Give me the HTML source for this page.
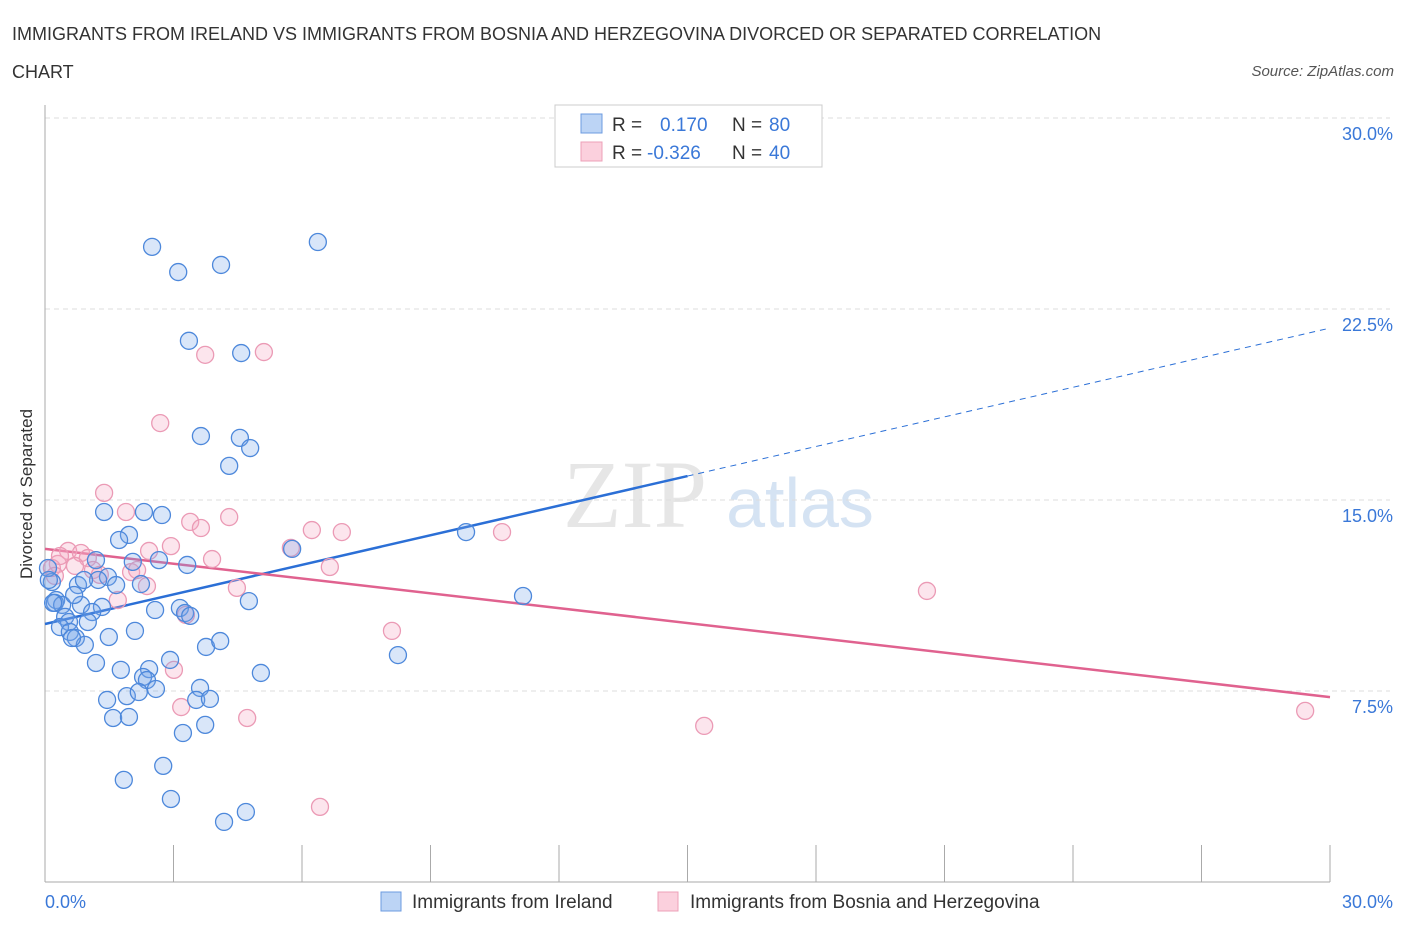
<!DOCTYPE html>
<html><head><meta charset="utf-8"><style>
body{margin:0;background:#fff;font-family:"Liberation Sans",sans-serif;}
</style></head><body>
<svg width="1406" height="930" xmlns="http://www.w3.org/2000/svg" id="svg">
<text x="12" y="40" font-size="18" fill="#333">IMMIGRANTS FROM IRELAND VS IMMIGRANTS FROM BOSNIA AND HERZEGOVINA DIVORCED OR SEPARATED CORRELATION</text>
<text x="12" y="78" font-size="18" fill="#333">CHART</text>
<text x="1394" y="76" font-size="15" fill="#555" font-style="italic" text-anchor="end">Source: ZipAtlas.com</text>
<text x="32" y="494" font-size="17" fill="#333" text-anchor="middle" transform="rotate(-90 32 494)">Divorced or Separated</text>
<g><text x="635" y="527" font-size="96" font-family="Liberation Serif,serif" fill="#e6e6e6" text-anchor="middle">ZIP</text><text x="800" y="527" font-size="70" fill="#d5e3f3" text-anchor="middle">atlas</text></g>
<g id="grid"></g><g id="axes"></g><g id="lines"></g><g id="pts"></g>
<g>
<rect x="555" y="105" width="267" height="62" fill="#fff" stroke="#ccc"/>
<rect x="581" y="114" width="21" height="19" fill="#bcd4f5" stroke="#6c9be0"/>
<text x="612" y="131" font-size="19" fill="#333">R = </text><text x="660" y="131" font-size="19" fill="#3a78d8">0.170</text>
<text x="732" y="131" font-size="19" fill="#333">N = </text><text x="769" y="131" font-size="19" fill="#3a78d8">80</text>
<rect x="581" y="142" width="21" height="19" fill="#fbd0dd" stroke="#eca0b8"/>
<text x="612" y="159" font-size="19" fill="#333">R = </text><text x="647" y="159" font-size="19" fill="#3a78d8">-0.326</text>
<text x="732" y="159" font-size="19" fill="#333">N = </text><text x="769" y="159" font-size="19" fill="#3a78d8">40</text>
</g>
<g>
<rect x="381" y="892" width="20" height="19" fill="#bcd4f5" stroke="#6c9be0"/>
<text x="412" y="908" font-size="19" fill="#333">Immigrants from Ireland</text>
<rect x="658" y="892" width="20" height="19" fill="#fbd0dd" stroke="#eca0b8"/>
<text x="690" y="908" font-size="19" fill="#333">Immigrants from Bosnia and Herzegovina</text>
</g>
</svg>
<script>
const yTicks=[7.5,15,22.5,30];
const yTickLabels=["7.5%","15.0%","22.5%","30.0%"];
const xTickLabels=["0.0%","30.0%"];
const blueX=[2.50,3.11,4.11,6.37,3.36,4.58,3.64,4.55,4.79,4.30,1.38,2.31,2.73,1.96,1.73,2.05,3.32,2.66,1.19,1.47,1.66,0.77,1.24,2.24,0.16,0.26,0.23,0.40,0.84,1.33,0.47,1.10,0.56,2.57,3.15,3.27,4.76,1.00,0.35,0.58,0.72,1.49,2.10,0.93,1.19,2.92,3.76,4.09,1.77,2.43,2.29,2.38,2.59,3.62,5.04,1.45,1.91,2.19,3.53,3.85,1.59,1.96,3.74,3.22,1.84,2.76,2.94,4.18,4.69,9.83,11.16,8.24,5.77,0.07,0.09,0.19,0.91,0.68,3.39,0.63];
const blueY=[24.94,23.95,24.23,25.13,21.25,20.77,17.51,17.44,17.04,16.34,14.53,14.53,14.41,13.63,13.43,12.57,12.45,12.64,12.64,11.98,11.66,11.66,11.86,11.70,11.78,11.07,10.96,10.88,10.88,10.80,10.41,10.60,10.21,10.68,10.76,10.56,11.03,10.21,10.01,9.82,9.58,9.62,9.86,9.31,8.60,8.72,9.23,9.46,8.33,8.36,8.05,7.93,7.58,7.62,8.21,7.15,7.30,7.46,7.15,7.19,6.44,6.48,6.17,5.85,4.01,4.56,3.26,2.36,2.75,13.74,11.23,8.91,13.08,12.33,11.86,10.96,11.86,11.27,10.45,9.58];
const pinkX=[1.38,2.69,3.74,5.11,1.89,3.39,3.64,4.30,2.94,2.43,0.54,0.30,0.84,1.00,1.12,1.28,2.01,2.15,3.90,6.23,6.93,5.74,6.65,4.48,2.38,1.70,3.29,3.01,3.18,4.72,6.42,8.10,10.67,20.59,15.39,29.42,0.16,0.23,0.70,0.35];
const pinkY=[15.28,18.02,20.70,20.81,14.53,14.14,13.90,14.33,13.19,13.00,13.00,12.49,12.92,12.72,12.25,12.06,12.17,12.25,12.68,13.82,13.74,13.12,12.37,11.55,11.62,11.07,10.49,8.33,6.87,6.44,2.95,9.86,13.74,11.43,6.13,6.72,12.33,12.02,12.41,12.80];
const blueFit=[10.13,21.75];
const pinkFit=[13.08,7.26];
const X0=45,X1=1330,Y0=882,Y1=118;
const sx=v=>X0+v/30*(X1-X0), sy=v=>Y0-v/30*(Y0-Y1);
const NS="http://www.w3.org/2000/svg";
function mk(t,a,p){const e=document.createElementNS(NS,t);for(const k in a)e.setAttribute(k,a[k]);p.appendChild(e);return e;}
const grid=document.getElementById('grid'),axes=document.getElementById('axes'),lines=document.getElementById('lines'),pts=document.getElementById('pts');
yTicks.forEach((v,i)=>{
 const l=mk('line',{x1:X0,x2:X1+60,y1:sy(v),y2:sy(v),stroke:'#ddd','stroke-dasharray':'5,4'},grid);
 
 
 const t=mk('text',{x:1393,y:sy(v)+22,'font-size':18,fill:'#3a78d8','text-anchor':'end'},axes);
 t.textContent=yTickLabels[i];
 
 
});
const ax=mk('line',{x1:X0,x2:X0,y1:105,y2:Y0,stroke:'#aaa'},axes);


const bx=mk('line',{x1:X0,x2:X1,y1:Y0,y2:Y0,stroke:'#aaa'},axes);


for(let i=0;i<=10;i++){const t=mk('line',{x1:sx(i*3),x2:sx(i*3),y1:845,y2:Y0,stroke:'#aaa'},axes);
 
 }
[[0,'start',45],[30,'end',1393]].forEach((d,i)=>{const t=mk('text',{x:d[2],y:908,'font-size':18,fill:'#3a78d8','text-anchor':d[1]},axes);t.textContent=xTickLabels[i];
 
 });
function dot(x,y,c,f,n){const e=mk('circle',{cx:sx(x),cy:sy(y),r:8.5,fill:f,stroke:c,'stroke-width':1.3},pts);
 
 }
pinkX.forEach((x,i)=>dot(x,pinkY[i],'#eb9ab5','rgba(245,170,195,0.3)','bosnia-point'));
blueX.forEach((x,i)=>dot(x,blueY[i],'#4d88db','rgba(120,165,235,0.28)','ireland-point'));
const xm=15;
const b1=mk('line',{x1:sx(0),y1:sy(blueFit[0]),x2:sx(xm),y2:sy(blueFit[0]+(blueFit[1]-blueFit[0])*xm/30),stroke:'#2b6fd6','stroke-width':2.5},lines);


const b2=mk('line',{x1:sx(xm),y1:sy(blueFit[0]+(blueFit[1]-blueFit[0])*xm/30),x2:sx(30),y2:sy(blueFit[1]),stroke:'#2b6fd6','stroke-width':1,'stroke-dasharray':'6,5'},lines);


const p1=mk('line',{x1:sx(0),y1:sy(pinkFit[0]),x2:sx(30),y2:sy(pinkFit[1]),stroke:'#e0628f','stroke-width':2.5},lines);


</script>
</body></html>
